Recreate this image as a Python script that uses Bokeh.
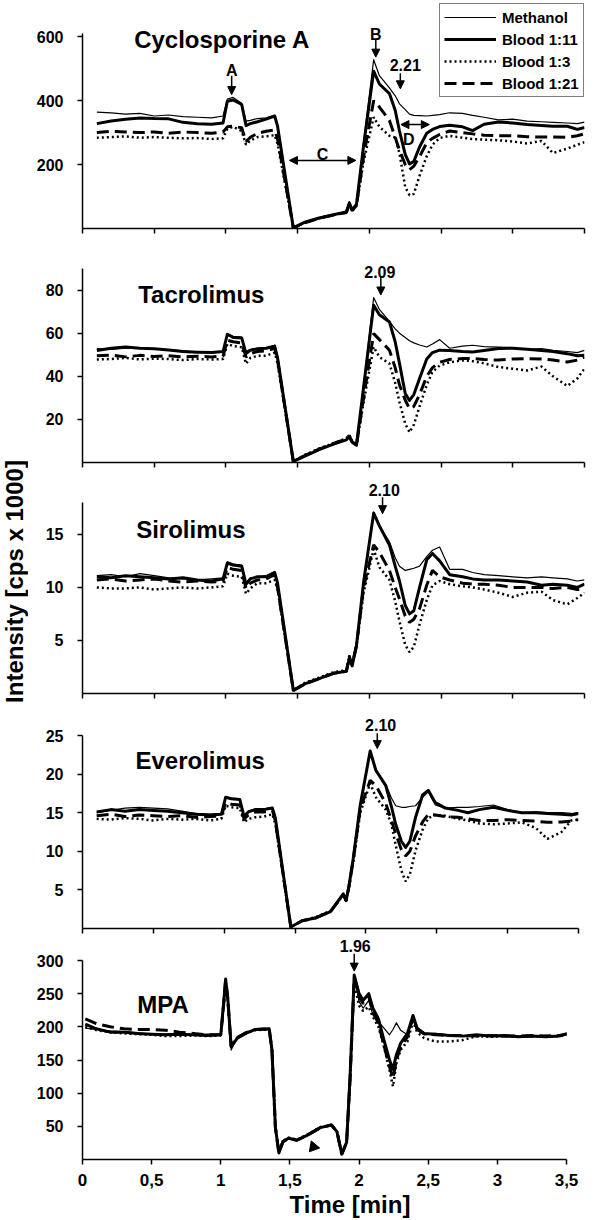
import math
from bokeh.plotting import figure
from bokeh.layouts import column, row
from bokeh.models import (Range1d, FixedTicker, Legend, LegendItem, Label, Arrow, Title,
                          NormalHead, CustomJSTickFormatter, CustomLabelingPolicy)
from bokeh.embed import file_html
from bokeh.resources import INLINE

FONT = "Liberation Sans"

# ---------------- data ----------------
SERIES = ["Methanol", "Blood 1:11", "Blood 1:3", "Blood 1:21"]
X_TICKS = [0, 0.5, 1, 1.5, 2, 2.5, 3, 3.5]

# common time grid for the four immunosuppressants (min)
TIME = [0.10, 0.20, 0.30, 0.40, 0.50, 0.60, 0.70, 0.80, 0.90, 0.98,
        1.01, 1.05, 1.11, 1.14, 1.17, 1.22, 1.28, 1.34, 1.36, 1.47,
        1.55, 1.65, 1.75, 1.84, 1.86, 1.88, 1.91, 1.96, 2.03, 2.07,
        2.14, 2.18, 2.21, 2.25, 2.28, 2.31, 2.35, 2.40, 2.44, 2.49,
        2.56, 2.65, 2.72, 2.80, 2.90, 3.00, 3.10, 3.20, 3.28, 3.38,
        3.45, 3.50]

# Cyclosporine A (cps x 1000)
CSA_MEOH = [364, 362, 358, 360, 352, 355, 350, 348, 346, 352,
            405, 410, 392, 336, 338, 344, 346, 354, 325, 2,
            18, 32, 42, 54, 84, 60, 76, 270, 528, 478,
            440, 415, 390, 372, 358, 354, 353, 352, 354, 356,
            362, 360, 354, 348, 340, 342, 336, 334, 332, 330,
            328, 333]
CSA_B11 = [328, 336, 342, 346, 344, 343, 332, 328, 326, 330,
           398, 402, 388, 322, 328, 334, 342, 352, 320, 2,
           20, 33, 43, 52, 80, 58, 75, 260, 492, 452,
           422, 370, 305, 232, 202, 210, 255, 298, 310, 319,
           323, 318, 306, 326, 333, 330, 325, 322, 320, 320,
           310, 316]
CSA_B3 = [284, 286, 288, 284, 286, 284, 282, 283, 280, 282,
          312, 318, 305, 262, 275, 286, 288, 292, 265, 2,
          18, 32, 42, 50, 76, 55, 70, 210, 348, 318,
          290, 285, 235, 130, 104, 108, 165, 226, 262, 283,
          290, 284, 280, 278, 276, 272, 266, 274, 236, 250,
          262, 270]
CSA_B21 = [300, 304, 302, 300, 302, 298, 302, 300, 298, 302,
           318, 320, 315, 272, 285, 298, 304, 308, 280, 2,
           18, 32, 42, 50, 78, 56, 72, 225, 400, 380,
           338, 285, 245, 200, 184, 195, 225, 268, 282, 294,
           305, 300, 296, 292, 290, 290, 287, 286, 286, 285,
           290, 296]

# Tacrolimus
TAC_MEOH = [52.8, 52.5, 53.0, 53.2, 52.6, 52.4, 51.8, 51.2, 51.0, 51.2,
            59.8, 58.5, 58.2, 51.5, 52.5, 53.0, 53.2, 54.4, 49.0, 0.5,
            3.0, 6.0, 8.5, 10.5, 12.5, 10.0, 8.0, 36.0, 76.5, 71.0,
            65.5, 62.0, 60.0, 58.0, 56.5, 55.5, 54.5, 53.6, 55.0, 57.0,
            53.0, 54.0, 54.4, 53.8, 53.5, 53.3, 52.5, 52.8, 52.0, 51.5,
            51.0, 52.0]
TAC_B11 = [52.0, 53.0, 53.6, 53.0, 52.8, 52.2, 51.5, 51.2, 51.0, 51.5,
           59.5, 58.0, 57.8, 50.5, 52.0, 52.8, 53.0, 54.0, 48.5, 0.5,
           3.0, 6.0, 8.5, 10.5, 12.0, 9.5, 8.0, 35.0, 73.0, 68.5,
           65.2, 56.0, 46.0, 32.0, 28.8, 31.5, 39.0, 48.0, 51.0, 52.1,
           52.0, 51.5, 51.3, 52.0, 52.9, 53.0, 52.5, 52.0, 51.5, 50.5,
           49.5, 49.7]
TAC_B3 = [47.8, 48.0, 48.5, 47.8, 48.2, 48.0, 47.5, 48.0, 47.8, 48.0,
          55.0, 54.0, 53.5, 45.8, 48.5, 49.5, 49.5, 51.0, 46.0, 0.5,
          3.5, 6.5, 9.0, 11.2, 12.8, 9.8, 8.0, 28.0, 53.6, 48.9,
          45.9, 37.0, 28.0, 18.0, 14.0, 17.5, 26.0, 36.0, 42.0, 45.0,
          46.5, 47.4, 47.0, 46.0, 44.3, 43.5, 42.7, 44.5, 40.0, 35.5,
          39.0, 43.5]
TAC_B21 = [49.5, 49.8, 49.0, 49.7, 49.2, 49.5, 49.0, 49.3, 49.0, 49.3,
           56.7, 56.0, 55.5, 48.9, 50.5, 51.5, 51.8, 53.0, 47.5, 0.5,
           3.2, 6.2, 8.8, 11.0, 12.5, 9.5, 8.0, 30.0, 59.8, 57.0,
           52.1, 44.0, 36.0, 29.0, 24.9, 26.0, 31.5, 40.0, 44.0, 46.5,
           47.8, 48.2, 48.2, 47.8, 47.5, 48.0, 48.1, 48.0, 47.5, 46.6,
           47.5, 48.9]

# Sirolimus
SIR_MEOH = [11.1, 11.2, 11.0, 11.3, 11.1, 10.9, 10.8, 10.7, 10.8, 10.9,
            12.4, 12.2, 12.1, 10.4, 10.9, 11.0, 11.1, 11.5, 10.5, 0.3,
            0.9, 1.4, 1.9, 2.1, 3.4, 2.6, 4.5, 10.7, 17.1, 15.8,
            14.3, 12.8, 12.0, 11.6, 11.7, 11.8, 12.0, 12.9, 13.5, 13.8,
            11.7, 11.7, 11.4, 11.2, 11.1, 11.0, 10.9, 11.0, 10.9, 10.8,
            10.6, 10.7]
SIR_B11 = [11.0, 10.9, 11.1, 11.0, 10.9, 10.8, 10.9, 10.7, 10.6, 10.8,
           12.3, 12.1, 12.0, 10.3, 10.8, 11.0, 11.0, 11.4, 10.4, 0.3,
           0.9, 1.4, 1.9, 2.1, 3.3, 2.6, 4.5, 10.5, 17.0, 15.8,
           14.0, 12.0, 10.6, 8.3, 7.5, 7.8, 10.0, 12.6, 13.2, 12.5,
           11.2, 11.0, 10.8, 10.7, 10.7, 10.6, 10.5, 10.2, 10.3, 10.2,
           10.0, 10.3]
SIR_B3 = [10.0, 9.9, 9.9, 10.0, 9.8, 9.9, 10.0, 9.9, 10.0, 10.1,
          11.3, 11.1, 11.0, 9.4, 9.9, 10.4, 10.4, 10.7, 9.8, 0.3,
          1.0, 1.5, 2.0, 2.2, 3.6, 2.8, 4.5, 9.5, 13.6, 11.9,
          10.7, 8.7, 6.8, 4.6, 3.9, 4.4, 6.5, 8.8, 10.2, 10.6,
          10.3, 10.1, 10.0, 9.8, 9.5, 9.1, 9.5, 9.6, 8.8, 8.4,
          9.0, 9.5]
SIR_B21 = [10.7, 10.8, 10.6, 10.7, 10.8, 10.6, 10.5, 10.6, 10.5, 10.6,
           11.9, 11.7, 11.6, 9.9, 10.4, 10.7, 10.8, 11.2, 10.0, 0.3,
           0.9, 1.4, 1.9, 2.1, 3.5, 2.7, 4.5, 10.0, 14.0, 13.3,
           11.6, 10.0, 8.9, 7.3, 6.7, 7.0, 8.0, 10.2, 11.6, 11.0,
           10.7, 10.4, 10.3, 10.3, 10.2, 10.0, 10.0, 10.0, 9.9, 10.0,
           9.8, 9.9]

# Everolimus
EVE_MEOH = [15.0, 15.3, 15.6, 15.7, 15.6, 15.5, 15.2, 14.9, 14.8, 14.9,
            17.1, 16.9, 16.8, 14.6, 15.2, 15.5, 15.5, 15.7, 14.5, 0.2,
            1.0, 1.4, 2.2, 4.5, 3.6, 5.5, 9.0, 16.0, 22.8, 20.3,
            18.7, 16.9, 15.9, 15.7, 15.7, 15.8, 15.9, 17.0, 17.7, 16.0,
            15.6, 15.7, 15.7, 15.8, 16.0, 15.4, 15.0, 15.1, 15.0, 15.0,
            14.9, 15.0]
EVE_B11 = [15.1, 15.4, 15.2, 15.4, 15.3, 15.2, 15.0, 14.8, 14.7, 14.8,
           17.0, 16.8, 16.7, 14.5, 15.1, 15.4, 15.4, 15.6, 14.4, 0.2,
           1.0, 1.4, 2.2, 4.5, 3.6, 5.5, 9.0, 16.0, 23.0, 20.5,
           18.5, 15.8, 13.5, 11.3, 10.5, 11.3, 14.4, 17.3, 17.9, 16.3,
           15.6, 15.3, 15.0, 15.4, 15.7, 15.3, 15.0, 15.0, 14.9, 14.8,
           14.7, 14.9]
EVE_B3 = [14.2, 14.1, 14.3, 14.2, 14.0, 14.2, 14.1, 14.2, 14.0, 14.2,
          15.9, 15.7, 15.6, 13.75, 14.2, 14.4, 14.5, 14.8, 13.6, 0.2,
          1.0, 1.5, 2.3, 4.3, 3.7, 5.3, 8.5, 15.0, 18.8, 17.0,
          15.4, 13.5, 10.8, 7.5, 6.1, 7.0, 10.1, 12.8, 14.3, 14.7,
          14.6, 14.2, 14.0, 13.6, 13.5, 13.6, 13.75, 13.0, 11.6, 12.5,
          14.0, 14.1]
EVE_B21 = [14.6, 14.8, 14.5, 14.7, 14.6, 14.5, 14.6, 14.4, 14.5, 14.6,
           16.3, 16.1, 16.0, 14.2, 14.7, 15.1, 15.1, 15.3, 14.0, 0.2,
           1.0, 1.4, 2.2, 4.4, 3.6, 5.4, 8.8, 15.5, 19.2, 18.5,
           16.2, 14.0, 12.3, 10.2, 9.4, 10.0, 12.0, 13.8, 14.8, 14.7,
           14.5, 14.4, 14.2, 14.0, 14.0, 14.1, 14.0, 13.9, 13.75, 13.8,
           13.9, 14.1]

# MPA has its own time grid
TIME_MPA = [0.02, 0.10, 0.20, 0.30, 0.40, 0.50, 0.60, 0.70, 0.80, 0.90,
            1.00, 1.02, 1.035, 1.05, 1.075, 1.12, 1.18, 1.25, 1.35, 1.37,
            1.395, 1.42, 1.45, 1.49, 1.55, 1.62, 1.72, 1.80, 1.84, 1.875,
            1.91, 1.935, 1.965, 2.00, 2.03, 2.07, 2.10, 2.14, 2.18, 2.22,
            2.245, 2.27, 2.30, 2.35, 2.39, 2.42, 2.47, 2.55, 2.65, 2.75,
            2.85, 2.95, 3.05, 3.15, 3.25, 3.35, 3.45, 3.51]
MPA_MEOH = [198, 196, 194, 193, 191, 189, 189, 189, 188, 189,
            188, 230, 268, 240, 165, 185, 192, 195, 196, 165,
            50, 12, 28, 32, 30, 37, 49, 52, 42, 10,
            26, 125, 276, 238, 228, 240, 218, 208, 198, 188,
            196, 206, 195, 188, 210, 195, 188, 190, 188, 186,
            187, 186, 185, 186, 185, 187, 186, 189]
MPA_B11 = [204, 197, 192, 192, 190, 189, 188, 189, 188, 187,
           188, 235, 272, 245, 170, 183, 190, 196, 197, 165,
           48, 10, 27, 32, 29, 36, 48, 52, 42, 8,
           26, 125, 278, 250, 240, 250, 228, 212, 180, 150,
           136, 158, 175, 190, 217, 198, 190, 189, 187, 186,
           188, 186, 187, 185, 186, 185, 186, 190]
MPA_B3 = [200, 195, 192, 190, 189, 188, 186, 186, 187, 186,
          187, 230, 266, 240, 172, 184, 190, 195, 196, 165,
          50, 12, 28, 33, 30, 37, 49, 52, 42, 10,
          26, 118, 265, 232, 224, 230, 215, 200, 170, 135,
          110, 145, 165, 178, 208, 192, 183, 178, 178, 180,
          186, 185, 186, 185, 186, 185, 186, 189]
MPA_B21 = [212, 205, 200, 197, 196, 196, 195, 192, 190, 188,
           188, 232, 270, 243, 170, 184, 191, 196, 197, 165,
           48, 10, 27, 32, 29, 36, 48, 52, 42, 8,
           26, 122, 275, 245, 235, 245, 222, 205, 172, 140,
           122, 150, 170, 185, 214, 196, 190, 188, 187, 187,
           186, 187, 186, 186, 187, 186, 187, 190]

HIDE_LABELS = CustomLabelingPolicy(code="""
try { for (const i of Array.from(indices)) indices.unset(i) } catch (e) {}
return indices
""")

SIDE_W = 28      # strip holding the shared y-axis title
TOTAL_H = 1217


def make_panel(axis_top, axis_px, yticks, left, fw, fh, bottom, right, show_x=False):
    # frame starts at the top of the figure; the y range is extended so that
    # annotations above the axis stay inside the frame; the axis line is bounded
    ymax = axis_top * fh / axis_px
    p = figure(frame_width=fw, frame_height=fh,
               x_range=Range1d(0, 3.5), y_range=Range1d(0, ymax),
               output_backend="svg", toolbar_location=None, title=None,
               min_border_left=left - SIDE_W, min_border_right=right,
               min_border_top=0, min_border_bottom=bottom)
    p.grid.visible = False
    p.outline_line_color = None
    p.background_fill_color = "white"
    p.border_fill_color = "white"
    for ax in (p.xaxis[0], p.yaxis[0]):
        ax.axis_line_color = "black"
        ax.axis_line_width = 1.5
        ax.major_tick_line_color = "black"
        ax.major_tick_line_width = 1.5
        ax.major_tick_in = 0
        ax.major_tick_out = 5
        ax.minor_tick_line_color = None
        ax.major_label_text_font = FONT
        ax.major_label_text_font_style = "bold"
        ax.major_label_text_color = "black"
        ax.major_label_text_font_size = "16px"
    p.yaxis.ticker = FixedTicker(ticks=yticks)
    p.yaxis.bounds = (0, axis_top)
    p.yaxis.major_label_standoff = 14
    p.xaxis.ticker = FixedTicker(ticks=X_TICKS)
    if show_x:
        p.xaxis.formatter = CustomJSTickFormatter(code="return tick.toString().replace('.', ',')")
        p.xaxis.major_label_text_font_size = "17px"
        p.xaxis.major_label_standoff = 9
    else:
        p.xaxis.major_label_policy = HIDE_LABELS
        p.xaxis.major_label_text_font_size = "1px"
        p.xaxis.major_label_standoff = 0
    return p


def draw(p, t, m, b11, b3, b21):
    r3 = p.line(t, b3, line_color="black", line_width=2.5, line_dash="2 3")
    r21 = p.line(t, b21, line_color="black", line_width=3, line_dash="12 6")
    r11 = p.line(t, b11, line_color="black", line_width=3, line_join="round")
    rm = p.line(t, m, line_color="black", line_width=1.2, line_join="round")
    return rm, r11, r3, r21


def title(p, x, y, text):
    p.add_layout(Label(x=x, y=y, text=text, text_font=FONT, text_font_style="bold",
                       text_font_size="24px", text_color="black",
                       text_baseline="alphabetic", text_align="left"))


def note(p, x, y, text):
    p.add_layout(Label(x=x, y=y, text=text, text_font=FONT, text_font_style="bold",
                       text_font_size="16px", text_color="black",
                       text_baseline="middle", text_align="center"))


def head():
    return NormalHead(size=8, fill_color="black", line_color="black")


def arrow(p, x0, y0, x1, y1, double=False):
    p.add_layout(Arrow(start=head() if double else None, end=head(),
                       x_start=x0, y_start=y0, x_end=x1, y_end=y1,
                       line_color="black", line_width=1.5))


# ---------------- panels ----------------
p1 = make_panel(610, 195, [200, 400, 600], 80, 502, 228, 17, 14)
rm, r11, r3, r21 = draw(p1, TIME, CSA_MEOH, CSA_B11, CSA_B3, CSA_B21)
title(p1, 0.36, 590, "Cyclosporine A")
note(p1, 1.04, 494, "A"); arrow(p1, 1.04, 478, 1.04, 419)
note(p1, 2.045, 607, "B"); arrow(p1, 2.045, 592, 2.045, 536)
note(p1, 2.25, 510, "2.21"); arrow(p1, 2.216, 486, 2.216, 437)
arrow(p1, 1.443, 213, 1.906, 213, double=True); note(p1, 1.673, 232, "C")
arrow(p1, 2.22, 325, 2.418, 325, double=True); note(p1, 2.274, 278, "D")
legend = Legend(items=[LegendItem(label=SERIES[0], renderers=[rm]),
                       LegendItem(label=SERIES[1], renderers=[r11]),
                       LegendItem(label=SERIES[2], renderers=[r3]),
                       LegendItem(label=SERIES[3], renderers=[r21])],
                location=(357, 131), orientation="vertical",
                label_text_font=FONT, label_text_font_style="bold",
                label_text_font_size="15px", label_text_color="black",
                glyph_width=52, glyph_height=18, label_height=18,
                label_standoff=6, spacing=4, padding=4, margin=0,
                border_line_color="black", border_line_width=1,
                background_fill_color="white", background_fill_alpha=1.0)
p1.add_layout(legend)

p2 = make_panel(90, 194, [20, 40, 60, 80], 80, 502, 217, 18, 14)
draw(p2, TIME, TAC_MEOH, TAC_B11, TAC_B3, TAC_B21)
title(p2, 0.388, 78, "Tacrolimus")
note(p2, 2.073, 88.5, "2.09"); arrow(p2, 2.08, 86, 2.08, 77.7)

p3 = make_panel(18, 191, [5, 10, 15], 80, 502, 213, 19, 14)
draw(p3, TIME, SIR_MEOH, SIR_B11, SIR_B3, SIR_B21)
title(p3, 0.374, 15.5, "Sirolimus")
note(p3, 2.104, 19.15, "2.10"); arrow(p3, 2.092, 18.5, 2.092, 16.95)

p4 = make_panel(25, 193, [5, 10, 15, 20, 25], 80, 496, 216, 7, 20)
draw(p4, TIME, EVE_MEOH, EVE_B11, EVE_B3, EVE_B21)
title(p4, 0.374, 21.75, "Everolimus")
note(p4, 2.104, 26.3, "2.10"); arrow(p4, 2.08, 25.3, 2.08, 23.3)

p5 = make_panel(300, 199, [50, 100, 150, 200, 250, 300], 82, 484, 222, 60, 30, show_x=True)
draw(p5, TIME_MPA, MPA_MEOH, MPA_B11, MPA_B3, MPA_B21)
title(p5, 0.396, 233.7, "MPA")
note(p5, 1.972, 321.7, "1.96"); arrow(p5, 1.965, 310, 1.965, 284)
p5.scatter(x=[1.67], y=[19], marker="triangle", size=11, angle=0.35,
           fill_color="black", line_color="black")
p5.add_layout(Title(text="Time [min]", align="left", offset=207, standoff=0,
                    text_font=FONT, text_font_style="bold", text_font_size="24px",
                    text_color="black"), "below")

# shared y-axis title on a narrow strip at the left
side = figure(width=SIDE_W, height=TOTAL_H, x_range=Range1d(0, SIDE_W), y_range=Range1d(0, TOTAL_H),
              output_backend="svg", toolbar_location=None, title=None,
              x_axis_location=None, y_axis_location=None, min_border=0)
side.grid.visible = False
side.outline_line_color = None
side.add_layout(Label(x=14, y=TOTAL_H - 581, text="Intensity [cps x 1000]", angle=math.pi / 2,
                      text_font=FONT, text_font_style="bold", text_font_size="24px",
                      text_color="black", text_align="center", text_baseline="middle"))

layout = row(side, column(p1, p2, p3, p4, p5, spacing=0), spacing=0)
open("out.html", "w").write(file_html(layout, INLINE))
